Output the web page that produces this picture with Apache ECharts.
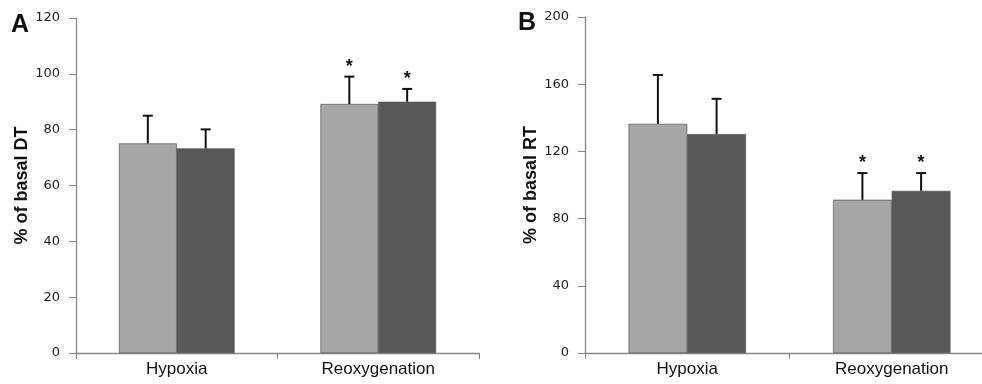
<!DOCTYPE html>
<html><head><meta charset="utf-8">
<script src="https://cdn.jsdelivr.net/npm/echarts@6/dist/echarts.min.js"></script>
<style>html,body{margin:0;padding:0;background:#fff}#c{width:982px;height:384px}</style>
</head><body><div id="c"></div>
<script>
const categories = ['Hypoxia', 'Reoxygenation'];
// Panel A: % of basal DT
const dtLight = [75.1, 89.2];
const dtLightErr = [85.0, 99.0];
const dtDark = [73.3, 90.0];
const dtDarkErr = [80.1, 94.6];
const dtStarLight = [false, true];
const dtStarDark = [false, true];
// Panel B: % of basal RT
const rtLight = [136.4, 91.2];
const rtLightErr = [165.5, 107.1];
const rtDark = [130.3, 96.5];
const rtDarkErr = [151.3, 107.1];
const rtStarLight = [false, true];
const rtStarDark = [false, true];
const dtTicks = {min: 0, max: 120, interval: 20};
const rtTicks = {min: 0, max: 200, interval: 40};

const LIGHT = '#a6a6a6', DARK = '#595959';
const BARW = 0.287;

function errSeries(axisIdx, errs, tops, stars, side) {
  return {
    type: 'custom', xAxisIndex: axisIdx, yAxisIndex: axisIdx, z: 5,
    data: categories.map((c, i) => [i, tops[i], errs[i], stars[i] ? 1 : 0]),
    renderItem: function (params, api) {
      const i = api.value(0);
      const band = api.size([1, 0])[0];
      const bw = band * BARW;
      const base = api.coord([i, api.value(1)]);
      const x = base[0] + side * bw / 2;
      const yTop = api.coord([i, api.value(2)])[1];
      const y0 = base[1];
      const children = [
        {type: 'line', shape: {x1: x, y1: y0, x2: x, y2: yTop}, style: {stroke: '#111', lineWidth: 2}},
        {type: 'line', shape: {x1: x - 5, y1: yTop, x2: x + 5, y2: yTop}, style: {stroke: '#111', lineWidth: 2}}
      ];
      if (api.value(3)) {
        children.push({type: 'text', x: x, y: yTop - 10,
          style: {text: '*', fill: '#111', font: 'bold 18px "Liberation Sans", Arial', align: 'center', verticalAlign: 'middle'}});
      }
      return {type: 'group', children: children};
    }
  };
}

function barSeries(axisIdx, data, color) {
  return {
    type: 'bar', xAxisIndex: axisIdx, yAxisIndex: axisIdx, data: data,
    barWidth: (BARW * 100) + '%', barGap: '0%',
    itemStyle: {color: color, borderColor: '#444', borderWidth: 0.6},
    silent: true
  };
}

const axisLine = {show: true, lineStyle: {color: '#868686', width: 1.3}};
function xAxis(gi) {
  return {
    type: 'category', gridIndex: gi, data: categories,
    axisLine: axisLine,
    axisTick: {show: true, inside: false, length: 6, lineStyle: {color: '#868686'}},
    axisLabel: {color: '#111', fontSize: 17, fontFamily: '"Liberation Sans", Arial', margin: 8}
  };
}
function yAxis(gi, t, name) {
  return {
    type: 'value', gridIndex: gi, min: t.min, max: t.max, interval: t.interval,
    name: name, nameLocation: 'middle', nameGap: 43, nameRotate: 90,
    nameTextStyle: {color: '#111', fontSize: 18, fontWeight: 'bold', fontFamily: '"Liberation Sans", Arial'},
    axisLine: axisLine,
    axisTick: {show: true, length: 7, lineStyle: {color: '#868686'}},
    splitLine: {show: false},
    axisLabel: {color: '#1a1a2a', fontSize: 13, fontFamily: '"DejaVu Sans"', margin: 16}
  };
}

const chart = echarts.init(document.getElementById('c'), null, {renderer: 'canvas'});
chart.setOption({
  animation: false,
  backgroundColor: '#fff',
  grid: [
    {left: 76, width: 403, top: 18, bottom: 31, containLabel: false, outerBoundsMode: 'none'},
    {left: 585, width: 409, top: 17, bottom: 31, containLabel: false, outerBoundsMode: 'none'}
  ],
  xAxis: [xAxis(0), xAxis(1)],
  yAxis: [yAxis(0, dtTicks, '% of basal DT'), yAxis(1, rtTicks, '% of basal RT')],
  graphic: [
    {type: 'text', left: 11, top: 13, style: {text: 'A', font: 'bold 25px "Liberation Sans", Arial', fill: '#111'}},
    {type: 'text', left: 518, top: 11, style: {text: 'B', font: 'bold 25px "Liberation Sans", Arial', fill: '#111'}}
  ],
  series: [
    barSeries(0, dtLight, LIGHT), barSeries(0, dtDark, DARK),
    errSeries(0, dtLightErr, dtLight, dtStarLight, -1), errSeries(0, dtDarkErr, dtDark, dtStarDark, 1),
    barSeries(1, rtLight, LIGHT), barSeries(1, rtDark, DARK),
    errSeries(1, rtLightErr, rtLight, rtStarLight, -1), errSeries(1, rtDarkErr, rtDark, rtStarDark, 1)
  ]
});
</script></body></html>
